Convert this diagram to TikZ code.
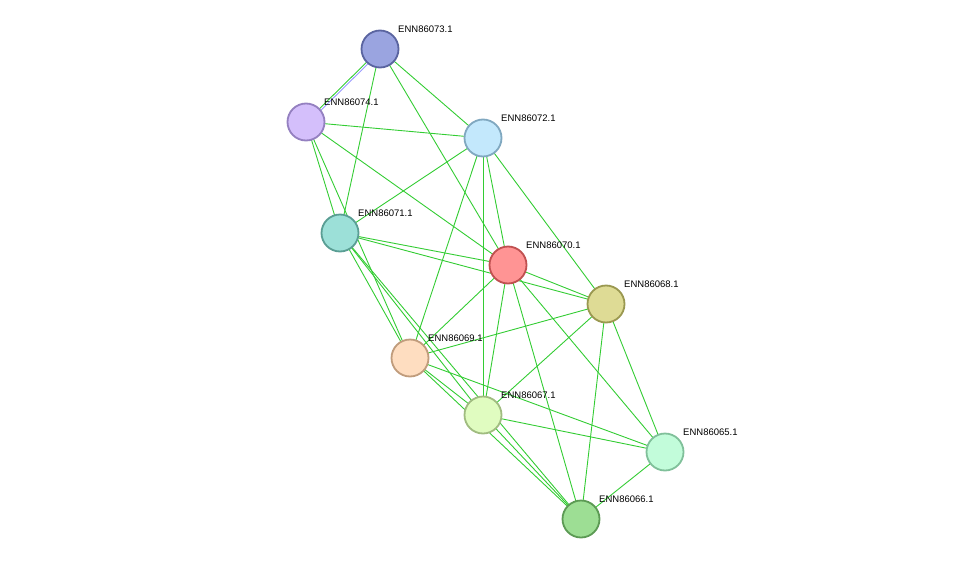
\documentclass[tikz,border=0pt]{standalone}
\usepackage{fontspec}
\setmainfont{Liberation Sans}
\begin{document}
\begin{tikzpicture}[x=1pt,y=-1pt,
 n/.style={circle,minimum size=37pt,inner sep=0pt,line width=1.8pt},
 l/.style={font=\fontsize{9.5}{10}\selectfont,anchor=south west,inner sep=1pt}]
\useasboundingbox (0,0) rectangle (975,565);
\definecolor{ed}{HTML}{33CC33}
\tikzset{e/.style={draw=ed,line width=0.9pt}}
\coordinate (p73) at (380,49); \coordinate (p74) at (306,122);
\coordinate (p72) at (483,138); \coordinate (p71) at (340,233);
\coordinate (p70) at (508,265); \coordinate (p68) at (606,304);
\coordinate (p69) at (410,358); \coordinate (p67) at (483,415);
\coordinate (p65) at (665,452); \coordinate (p66) at (581,519);
\draw[draw=blue!40,line width=0.9pt] ([shift={(1.5,1.5)}]p73) -- ([shift={(1.5,1.5)}]p74);
\foreach \a/\b in {73/74,73/71,73/70,73/72,74/72,74/70,74/71,74/69,
 72/71,72/70,72/68,72/69,70/71,70/68,70/69,70/67,70/66,70/65,
 71/68,71/69,71/67,71/66,68/69,68/67,68/66,68/65,69/67,69/66,69/65,
 67/66,67/65,65/66}
 \draw[e] (p\a) -- (p\b);
\draw[e] ([xshift=0.3]p72) -- ([xshift=0.3]p67);
\foreach \i/\f/\d/\t in {73/9AA4E0/5A64A0/ENN86073.1,74/D4BFFB/9480C0/ENN86074.1,
 72/C3E8FC/80A8C0/ENN86072.1,71/9CE0D8/5A9E94/ENN86071.1,70/FF9494/C05050/ENN86070.1,
 68/DEDB95/9A9850/ENN86068.1,69/FEDDC0/C09C7C/ENN86069.1,67/E0FCC0/A0BC80/ENN86067.1,
 65/C2FCDA/80C09A/ENN86065.1,66/9DDE94/5C9A54/ENN86066.1}{
 \definecolor{f\i}{HTML}{\f}\definecolor{d\i}{HTML}{\d}
 \node[n,fill=f\i,draw=d\i] (n\i) at (p\i) {};
 \node[l] (t\i) at ([shift={(17,-15)}]p\i) {\t};
}
\end{tikzpicture}
\end{document}
